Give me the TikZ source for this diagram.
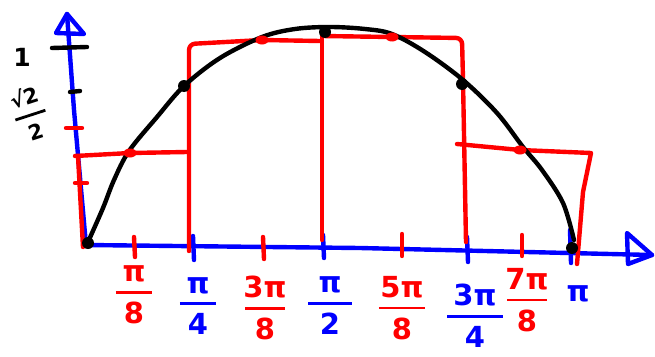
\documentclass[tikz,border=0pt]{standalone}
\usepackage{amsmath}
\usepackage{fontspec}
\setmainfont{DejaVu Sans}
\usetikzlibrary{shapes.geometric}
\definecolor{mred}{RGB}{255,0,0}
\definecolor{mblue}{RGB}{0,0,255}
\newcommand\frc[3][1.25em]{$\genfrac{}{}{2.8pt}{0}{\makebox[#1]{#2}}{\makebox[#1]{#3}}$}
\begin{document}
\begin{tikzpicture}[x=1pt,y=-1pt,line cap=round,line join=round,
  ax/.style={draw=mblue,line width=4.4pt},
  rd/.style={draw=mred,line width=4.4pt},
  cv/.style={draw=black,line width=4.4pt},
  bdot/.style={circle,fill=black,inner sep=0pt,minimum size=12pt},
  rdot/.style={ellipse,fill=mred,inner sep=0pt,minimum width=13pt,minimum height=9pt},
  lab/.style={font=\fontsize{29}{32}\selectfont\bfseries,inner sep=0pt},
]
\useasboundingbox (0,0) rectangle (655,356);
% axes
\coordinate (O) at (86,245);
\coordinate (ymid) at (74,110);
\coordinate (ytip) at (67,14);
\coordinate (xmid) at (360,248);
\coordinate (xtip) at (652,255);
\draw[ax] (O) -- (ymid) -- (ytip);
\draw[ax] (ytip) -- (56,33) -- (84,34) -- cycle;
\draw[ax] (O) -- (xmid) -- (xtip);
\draw[ax] (627,233) -- (xtip) -- (628,264) -- cycle;
% y ticks
\draw[cv] (52,48) -- (87,47);
\draw[cv] (70,92) -- (80,91);
\draw[rd] (66,128) -- (82,128);
\draw[rd] (75,183) -- (87,183);
% x ticks
\draw[rd] (134,237) -- (135,257);
\draw[ax] (193,236) -- (194,260);
\draw[rd] (263,237) -- (264,259);
\draw[ax] (323,235) -- (324,258);
\draw[rd] (402,234) -- (402,256);
\draw[ax] (467,237) -- (468,262);
\draw[rd] (522,235) -- (522,256);
\draw[ax] (570,230) -- (571,263);
% dots (positions)
\coordinate (r1) at (130,153);
\coordinate (r3) at (262,40);
\coordinate (r5) at (392,37);
\coordinate (r7) at (520,150);
% red rectangles
\draw[rd] (83,247) -- (78,156);
\draw[rd] (75,156) -- (r1) -- (187,152);
\draw[rd,rounded corners=6pt] (189,251) -- (189,44) -- (r3) -- (320,41);
\draw[rd] (322,240) -- (322,36);
\draw[rd,rounded corners=6pt] (322,36) -- (r5) -- (462,38) -- (463,80) -- (466,242);
\draw[rd] (457,144) -- (r7) -- (591,153) -- (583,192) -- (577,264);
% curve
\draw[cv] plot[smooth,tension=0.55] coordinates {(88,242) (103,208) (114,180) (129,151) (157,117) (184,86) (220,58) (262,37) (295,29) (330,27) (365,29) (392,34) (425,52) (463,80) (497,113) (523,147) (542,170) (563,203) (574,240)};
% dots
\node[rdot] (d1) at (r1) {};
\node[rdot] (d3) at (r3) {};
\node[rdot] (d5) at (r5) {};
\node[rdot] (d7) at (r7) {};
\node[bdot] (b0) at (88,243) {};
\node[bdot] (b2) at (184,86) {};
\node[bdot] (b4) at (325,32) {};
\node[bdot] (b6) at (462,84) {};
\node[bdot] (b8) at (572,248) {};
% y labels
\node[font=\fontsize{25}{27}\selectfont\bfseries,inner sep=0pt] (lone) at (22,57) {1};
\node[font=\fontsize{21}{23}\selectfont\bfseries,inner sep=0pt,rotate=18] (lroot) at (30,114) {\frc[1.5em]{√2}{2}};
% x labels
\node[lab,text=mred] (lp8) at (134,295) {\frc{π}{8}};
\node[lab,text=mblue] (lp4) at (198,306) {\frc{π}{4}};
\node[lab,text=mred] (l3p8) at (265,308) {\frc[1.35em]{3π}{8}};
\node[lab,text=mblue] (lp2) at (330,306) {\frc[1.5em]{π}{2}};
\node[lab,text=mred] (l5p8) at (402,308) {\frc[1.6em]{5π}{8}};
\node[lab,text=mblue] (l3p4) at (475,316) {\frc[1.9em]{3π}{4}};
\node[lab,text=mred] (l7p8) at (527,300) {\frc[1.35em]{7π}{8}};
\node[lab,text=mblue] (lpi) at (578,294) {π};
\end{tikzpicture}
\end{document}
